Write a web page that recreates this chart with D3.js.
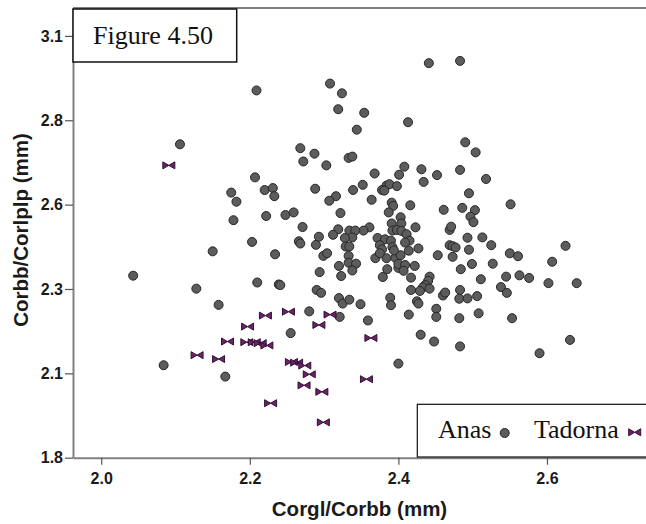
<!DOCTYPE html>
<html>
<head>
<meta charset="utf-8">
<script src="https://cdn.jsdelivr.net/npm/d3@7"></script>
<style>
  html, body { margin: 0; padding: 0; background: #fff; }
  svg { display: block; }
</style>
</head>
<body>
<div id="chart"></div>
<script>
// ---- data ----
const xTicks = [2.0, 2.2, 2.4, 2.6];
const xTickLabels = ["2.0", "2.2", "2.4", "2.6"];
const yTicks = [1.8, 2.06, 2.32, 2.58, 2.84, 3.1];
const yTickLabels = ["1.8", "2.1", "2.3", "2.6", "2.8", "3.1"];
const xTitle = "Corgl/Corbb (mm)";
const yTitle = "Corbb/Corlplp (mm)";
const figureLabel = "Figure 4.50";
const seriesNames = ["Anas", "Tadorna"];

const anasPoints = [
  [2.209,2.932],[2.106,2.766],[2.268,2.754],[2.287,2.737],[2.272,2.713],[2.207,2.664],[2.175,2.617],[2.182,2.589],
  [2.220,2.625],[2.231,2.631],[2.233,2.606],[2.288,2.629],[2.178,2.532],[2.222,2.545],[2.248,2.548],[2.259,2.556],
  [2.271,2.511],[2.203,2.465],[2.266,2.467],[2.268,2.460],[2.289,2.456],[2.293,2.481],[2.150,2.436],[2.234,2.427],
  [2.299,2.422],[2.304,2.430],[2.303,2.701],
  [2.441,3.016],[2.483,3.023],[2.308,2.953],[2.324,2.923],[2.319,2.874],[2.354,2.863],[2.413,2.834],[2.344,2.811],
  [2.490,2.772],[2.504,2.741],[2.333,2.724],[2.338,2.728],[2.408,2.697],[2.431,2.689],[2.483,2.687],[2.452,2.671],
  [2.368,2.676],[2.401,2.672],[2.434,2.650],[2.518,2.659],[2.352,2.641],[2.384,2.639],[2.388,2.643],[2.398,2.637],
  [2.378,2.625],[2.381,2.623],[2.339,2.625],[2.316,2.606],[2.307,2.592],[2.495,2.615],[2.364,2.595],[2.391,2.586],
  [2.393,2.576],[2.416,2.578],[2.551,2.581],[2.322,2.554],[2.387,2.556],[2.461,2.564],[2.486,2.570],[2.503,2.563],
  [2.403,2.541],[2.404,2.522],[2.497,2.543],[2.501,2.526],[2.391,2.522],[2.423,2.510],[2.319,2.504],[2.312,2.487],
  [2.361,2.510],[2.353,2.500],[2.334,2.500],[2.342,2.500],[2.338,2.479],[2.328,2.477],[2.329,2.451],[2.334,2.451],
  [2.392,2.500],[2.398,2.502],[2.404,2.499],[2.411,2.489],[2.415,2.469],[2.409,2.463],[2.372,2.477],[2.382,2.473],
  [2.390,2.469],[2.375,2.455],[2.378,2.442],[2.392,2.449],[2.469,2.502],[2.471,2.512],[2.493,2.478],[2.513,2.479],
  [2.525,2.455],[2.469,2.455],[2.473,2.452],[2.477,2.448],[2.495,2.441],[2.427,2.445],[2.414,2.438],[2.550,2.430],
  [2.561,2.421],[2.625,2.453],[2.453,2.424],[2.473,2.419],[2.369,2.415],[2.384,2.415],[2.396,2.416],[2.403,2.424],
  [2.333,2.422],[2.607,2.404],[2.375,2.430],[2.394,2.439],
  [2.320,2.391],[2.333,2.401],[2.343,2.398],[2.338,2.377],[2.323,2.360],[2.320,2.292],[2.325,2.275],[2.334,2.287],
  [2.321,2.234],[2.349,2.273],[2.359,2.223],[2.379,2.357],[2.385,2.381],[2.400,2.385],[2.400,2.397],[2.409,2.394],
  [2.407,2.376],[2.422,2.391],[2.417,2.355],[2.417,2.317],[2.442,2.358],[2.440,2.345],[2.436,2.332],[2.433,2.325],
  [2.429,2.314],[2.442,2.321],[2.425,2.282],[2.427,2.275],[2.389,2.293],[2.390,2.270],[2.414,2.241],[2.430,2.179],
  [2.448,2.158],[2.400,2.090],[2.451,2.259],[2.451,2.234],[2.460,2.300],[2.463,2.309],[2.483,2.317],[2.482,2.290],
  [2.493,2.291],[2.482,2.230],[2.506,2.298],[2.511,2.350],[2.508,2.245],[2.483,2.143],[2.527,2.398],[2.545,2.358],
  [2.563,2.362],[2.576,2.354],[2.538,2.326],[2.546,2.308],[2.553,2.230],[2.602,2.338],[2.640,2.338],[2.590,2.122],
  [2.631,2.163],[2.484,2.381],[2.499,2.397],[2.294,2.372],[2.043,2.361],[2.128,2.321],[2.158,2.271],[2.210,2.340],
  [2.239,2.334],[2.241,2.332],[2.290,2.317],[2.296,2.308],[2.280,2.251],[2.255,2.184],[2.084,2.085],[2.167,2.050]
];

const tadornaPoints = [
  [2.091,2.701],[2.129,2.116],[2.158,2.104],[2.170,2.158],[2.197,2.204],[2.221,2.238],[2.252,2.250],[2.293,2.209],
  [2.196,2.156],[2.206,2.156],[2.214,2.153],[2.223,2.146],[2.256,2.095],[2.263,2.093],[2.274,2.084],[2.280,2.057],
  [2.273,2.023],[2.297,2.003],[2.228,1.968],[2.299,1.909],[2.308,2.241],[2.363,2.169],[2.357,2.042]
];

// ---- layout ----
const W = 646, H = 524;
const plot = { left: 73, right: 648, top: 8, bottom: 457.7 };
const xDomain = [1.962, 2.736];
const yDomain = [1.8, 3.186];

const svg = d3.select("#chart").append("svg").attr("width", W).attr("height", H);

const x = d3.scaleLinear().domain(xDomain).range([plot.left, plot.right]);
const y = d3.scaleLinear().domain(yDomain).range([plot.bottom, plot.top]);

const axisColor = "#808080";
const sans = "'Liberation Sans', Arial, sans-serif";
const serif = "'Liberation Serif', 'Times New Roman', serif";

// top frame line
svg.append("line")
  .attr("x1", plot.left).attr("x2", plot.right)
  .attr("y1", plot.top).attr("y2", plot.top)
  .attr("stroke", axisColor).attr("stroke-width", 2);

// points
const gPts = svg.append("g");
gPts.selectAll("circle.anas").data(anasPoints).join("circle")
  .attr("class", "anas")
  .attr("cx", d => x(d[0])).attr("cy", d => y(d[1]))
  .attr("r", 4.5)
  .attr("fill", "#5c5c5c").attr("stroke", "#262626").attr("stroke-width", 1);

const bowtie = "M-6,-3.5L0,0L-6,3.5Z M6,-3.5L0,0L6,3.5Z";
gPts.selectAll("path.tad").data(tadornaPoints).join("path")
  .attr("class", "tad")
  .attr("transform", d => `translate(${x(d[0])},${y(d[1])})`)
  .attr("d", bowtie)
  .attr("fill", "#6f1f6c").attr("stroke", "#2e1230").attr("stroke-width", 1).attr("stroke-linejoin", "round");

// axes
const xAxis = svg.append("g")
  .attr("transform", `translate(0,${plot.bottom})`)
  .call(d3.axisBottom(x).tickValues(xTicks).tickFormat((d, i) => xTickLabels[i]).tickSize(7).tickSizeOuter(0).tickPadding(8));
const yAxis = svg.append("g")
  .attr("transform", `translate(${plot.left},0)`)
  .call(d3.axisLeft(y).tickValues(yTicks).tickFormat((d, i) => yTickLabels[i]).tickSize(8).tickSizeOuter(0).tickPadding(2));

[xAxis, yAxis].forEach(g => {
  g.select(".domain").attr("stroke", axisColor).attr("stroke-width", 2);
  g.selectAll(".tick line").attr("stroke", "#555").attr("stroke-width", 1.2);
  g.selectAll(".tick text")
    .attr("fill", "#1a1a1a")
    .style("font-family", sans).style("font-size", "16px").style("font-weight", "bold");
});

// axis titles
svg.append("text")
  .attr("x", (plot.left + plot.right) / 2 - 1).attr("y", 516)
  .attr("text-anchor", "middle")
  .style("font-family", sans).style("font-size", "20.5px").style("font-weight", "bold")
  .attr("fill", "#1a1a1a")
  .text(xTitle);
svg.append("text")
  .attr("transform", "translate(28,230) rotate(-90)")
  .attr("text-anchor", "middle")
  .style("font-family", sans).style("font-size", "20.5px").style("font-weight", "bold")
  .attr("fill", "#1a1a1a")
  .text(yTitle);

// figure label box
svg.append("rect")
  .attr("x", 73).attr("y", 9).attr("width", 163.7).attr("height", 53)
  .attr("fill", "#fff").attr("stroke", "#111").attr("stroke-width", 1.5);
svg.append("text")
  .attr("x", 93).attr("y", 44.3)
  .style("font-family", serif).style("font-size", "26px")
  .attr("fill", "#111")
  .text(figureLabel);

// legend
const leg = svg.append("g");
leg.append("rect")
  .attr("x", 417.3).attr("y", 404.3).attr("width", 250).attr("height", 52.7)
  .attr("fill", "#fff").attr("stroke", "#111").attr("stroke-width", 1.2);
leg.append("text")
  .attr("x", 438).attr("y", 437.7)
  .style("font-family", serif).style("font-size", "26px").attr("fill", "#111")
  .text(seriesNames[0]);
leg.append("circle")
  .attr("cx", 504.7).attr("cy", 433).attr("r", 4.5)
  .attr("fill", "#5c5c5c").attr("stroke", "#262626").attr("stroke-width", 1);
leg.append("text")
  .attr("x", 534).attr("y", 437.7)
  .style("font-family", serif).style("font-size", "26px").attr("fill", "#111")
  .text(seriesNames[1]);
leg.append("path")
  .attr("transform", "translate(634.7,432.3)")
  .attr("d", bowtie)
  .attr("fill", "#6f1f6c").attr("stroke", "#2e1230").attr("stroke-width", 1).attr("stroke-linejoin", "round");
</script>
</body>
</html>
